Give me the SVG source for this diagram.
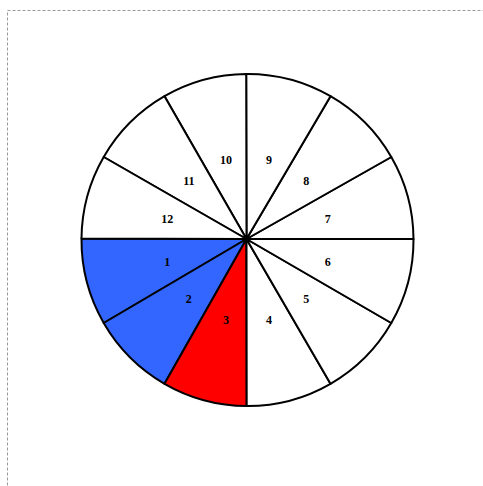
<svg xmlns="http://www.w3.org/2000/svg" width="483" height="486" viewBox="0 0 483 486">
<style>
.seg{stroke:#000;stroke-width:2;stroke-linejoin:round}
.w{fill:#fff}
.b{fill:#3366ff}
.r{fill:#ff0000}
.lbl{font-family:"Liberation Serif","Times New Roman",serif;font-weight:bold;font-size:12px;fill:#000;text-anchor:middle}
</style>
<rect x="0" y="0" width="483" height="486" fill="#fff"/>
<rect x="7.5" y="10.5" width="520" height="520" fill="none" stroke="#999" stroke-width="1" stroke-dasharray="3,2"/>
<g id="pie">
<g id="seg1"><path class="seg b" d="M246.5,239 L81.5,238.6 A166,166 0 0 0 103.7,323 Z"/></g>
<g id="seg2"><path class="seg b" d="M246.5,239 L103.7,323 A166,166 0 0 0 164.5,383.8 Z"/></g>
<g id="seg3"><path class="seg r" d="M246.5,239 L164.5,383.8 A166,166 0 0 0 246.7,406 Z"/></g>
<g id="seg4"><path class="seg w" d="M246.5,239 L246.7,406 A166,166 0 0 0 330.5,383.8 Z"/></g>
<g id="seg5"><path class="seg w" d="M246.5,239 L330.5,383.8 A166,166 0 0 0 391.3,323 Z"/></g>
<g id="seg6"><path class="seg w" d="M246.5,239 L391.3,323 A166,166 0 0 0 413.5,239 Z"/></g>
<g id="seg7"><path class="seg w" d="M246.5,239 L413.5,239 A166,166 0 0 0 391.3,157 Z"/></g>
<g id="seg8"><path class="seg w" d="M246.5,239 L391.3,157 A166,166 0 0 0 330.5,96.2 Z"/></g>
<g id="seg9"><path class="seg w" d="M246.5,239 L330.5,96.2 A166,166 0 0 0 246.2,74 Z"/></g>
<g id="seg10"><path class="seg w" d="M246.5,239 L246.2,74 A166,166 0 0 0 164.5,96.2 Z"/></g>
<g id="seg11"><path class="seg w" d="M246.5,239 L164.5,96.2 A166,166 0 0 0 103.7,157 Z"/></g>
<g id="seg12"><path class="seg w" d="M246.5,239 L103.7,157 A166,166 0 0 0 81.5,238.6 Z"/></g>
</g>
<g id="labels">
<text class="lbl" x="167.3" y="265.5">1</text>
<text class="lbl" x="188.8" y="302.7">2</text>
<text class="lbl" x="226" y="324.2">3</text>
<text class="lbl" x="269" y="324.2">4</text>
<text class="lbl" x="306.2" y="302.7">5</text>
<text class="lbl" x="327.7" y="265.5">6</text>
<text class="lbl" x="327.7" y="222.5">7</text>
<text class="lbl" x="306.2" y="185.3">8</text>
<text class="lbl" x="269" y="163.8">9</text>
<text class="lbl" x="226" y="163.8">10</text>
<text class="lbl" x="188.8" y="185.3">11</text>
<text class="lbl" x="167.3" y="222.5">12</text>
</g>
</svg>
